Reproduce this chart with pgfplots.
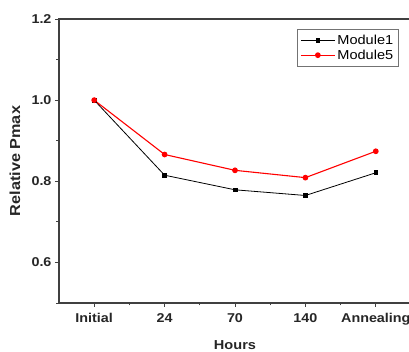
\documentclass[border=0pt]{standalone}
\usepackage{pgfplots}
\pgfplotsset{compat=1.18}
\usepackage{fontspec}
\setmainfont{Liberation Sans}[FakeStretch=1.12]
\begin{document}
\begin{tikzpicture}
\begin{axis}[
  at={(0,0)}, anchor=south west,
  scale only axis, width=352pt, height=284pt,
  xmin=-0.5, xmax=4.5, ymin=0.5, ymax=1.2,
  axis line style={line width=1.1pt, draw=black!75},
  xtick={0,1,2,3,4},
  xticklabels={Initial,24,70,140,Annealing},
  minor xtick={0.5,1.5,2.5,3.5},
  ytick={0.6,0.8,1.0,1.2},
  minor ytick={0.5,0.7,0.9,1.1},
  yticklabel style={/pgf/number format/.cd,fixed,fixed zerofill,precision=1},
  xticklabel style={yshift=-3pt},
  tick align=outside,
  xtick pos=bottom, ytick pos=left,
  major tick length=4pt, minor tick length=2.5pt,
  tick style={line width=0.9pt, black!75},
  ticklabel style={font=\bfseries\fontsize{12.8}{13}\selectfont, text=black!85},
  /pgf/number format/assume math mode=true,
  xlabel={Hours},
  ylabel={Relative Pmax},
  xlabel style={font=\bfseries\fontsize{13}{14}\selectfont, text=black!85, at={(axis description cs:0.5,0)}, anchor=center, yshift=-42pt},
  ylabel style={font=\bfseries\fontsize{14.5}{15}\selectfont, text=black!85, at={(axis description cs:0,0.5)}, anchor=center, rotate=0, yshift=44pt},
  legend style={at={(238pt,274pt)}, anchor=north west,
    draw=black!55, line width=0.6pt, font=\fontsize{13}{14}\selectfont,
    inner xsep=3pt, inner ysep=3.5pt, row sep=0pt, legend cell align=left,
    nodes={inner xsep=2pt}},
  legend image code/.code={%
    \draw[mark repeat=2,mark phase=2] plot coordinates {(0pt,0pt) (17pt,0pt) (34pt,0pt)};},
]
\addplot[black, line width=0.8pt, mark=square*, mark size=1.9pt] coordinates {
 (0,1.0) (1,0.815) (2,0.779) (3,0.765) (4,0.821)};
\addlegendentry{Module1}
\addplot[red, line width=1.1pt, mark=*, mark size=2.3pt] coordinates {
 (0,1.0) (1,0.866) (2,0.827) (3,0.809) (4,0.874)};
\addlegendentry{Module5}
\end{axis}
\pgfresetboundingbox
\path (-59pt,-49pt) rectangle (350pt,303pt);
\end{tikzpicture}
\end{document}
